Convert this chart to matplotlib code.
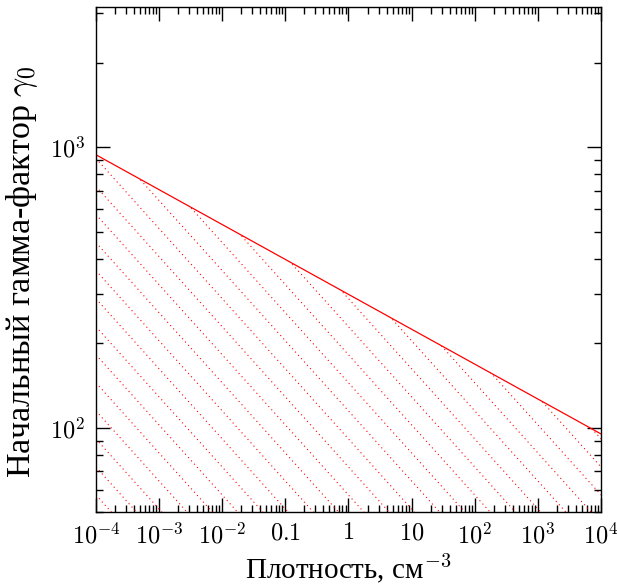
"""
Начальный гамма-фактор в зависимости от плотности среды
"""
import numpy as np
from matplotlib import pyplot as plt
from matplotlib.ticker import LogLocator, FixedLocator, FixedFormatter, NullFormatter

# граница области (сплошная линия)
density = [1e-4, 1e4]
gamma0 = [940.0, 95.0]

x_ticks = [1e-4, 1e-3, 1e-2, 0.1, 1, 10, 1e2, 1e3, 1e4]
x_labels = [r'$10^{-4}$', r'$10^{-3}$', r'$10^{-2}$', r'$0.1$', r'$1$', r'$10$',
            r'$10^{2}$', r'$10^{3}$', r'$10^{4}$']
y_ticks = [1e2, 1e3]
y_labels = [r'$10^{2}$', r'$10^{3}$']

x_lim = (1e-4, 1e4)
y_lim = (50, 3160)


def main():
    plt.rcParams['mathtext.fontset'] = 'cm'
    plt.rcParams['font.family'] = ['Liberation Serif', 'DejaVu Serif']

    f = plt.figure(figsize=(6.19, 5.88), dpi=100)
    ax = f.add_axes([0.155, 0.129, 0.816, 0.859])
    ax.set_xscale('log')
    ax.set_yscale('log')
    ax.set_xlim(*x_lim)
    ax.set_ylim(*y_lim)

    ax.plot(density, gamma0, color='red', lw=0.9)

    # заштрихованная область под линией
    poly = ax.fill_between(density, gamma0, y_lim[0], facecolor='none', edgecolor='none')
    clip = poly.get_paths()[0]
    xs = np.logspace(-4, 4, 50)
    for c in np.arange(-0.24, 3.1, 0.1):
        line, = ax.plot(xs, 10 ** (c - 0.25 * np.log10(xs)), color='red', lw=0.8,
                        linestyle=(0, (1, 3)))
        line.set_clip_path(clip, ax.transData)

    ax.xaxis.set_major_locator(FixedLocator(x_ticks))
    ax.xaxis.set_major_formatter(FixedFormatter(x_labels))
    ax.xaxis.set_minor_locator(LogLocator(base=10, subs=np.arange(2, 10), numticks=20))
    ax.xaxis.set_minor_formatter(NullFormatter())
    ax.yaxis.set_major_locator(FixedLocator(y_ticks))
    ax.yaxis.set_major_formatter(FixedFormatter(y_labels))
    ax.yaxis.set_minor_locator(LogLocator(base=10, subs=np.arange(2, 10), numticks=20))
    ax.yaxis.set_minor_formatter(NullFormatter())

    ax.tick_params(which='both', direction='in', top=True, right=True, width=1)
    ax.tick_params(which='major', length=10, labelsize=17.5, pad=8)
    ax.tick_params(which='minor', length=5)
    for s in ax.spines.values():
        s.set_linewidth(1)

    ax.set_xlabel(r'Плотность, см$^{-3}$', fontsize=21, labelpad=2)
    ax.set_ylabel(r'Начальный гамма-фактор $\gamma_0$', fontsize=24.5)
    ax.yaxis.set_label_coords(-0.11, 0.476)

    f.savefig('out.png', dpi=100)


if __name__ == '__main__':
    main()
